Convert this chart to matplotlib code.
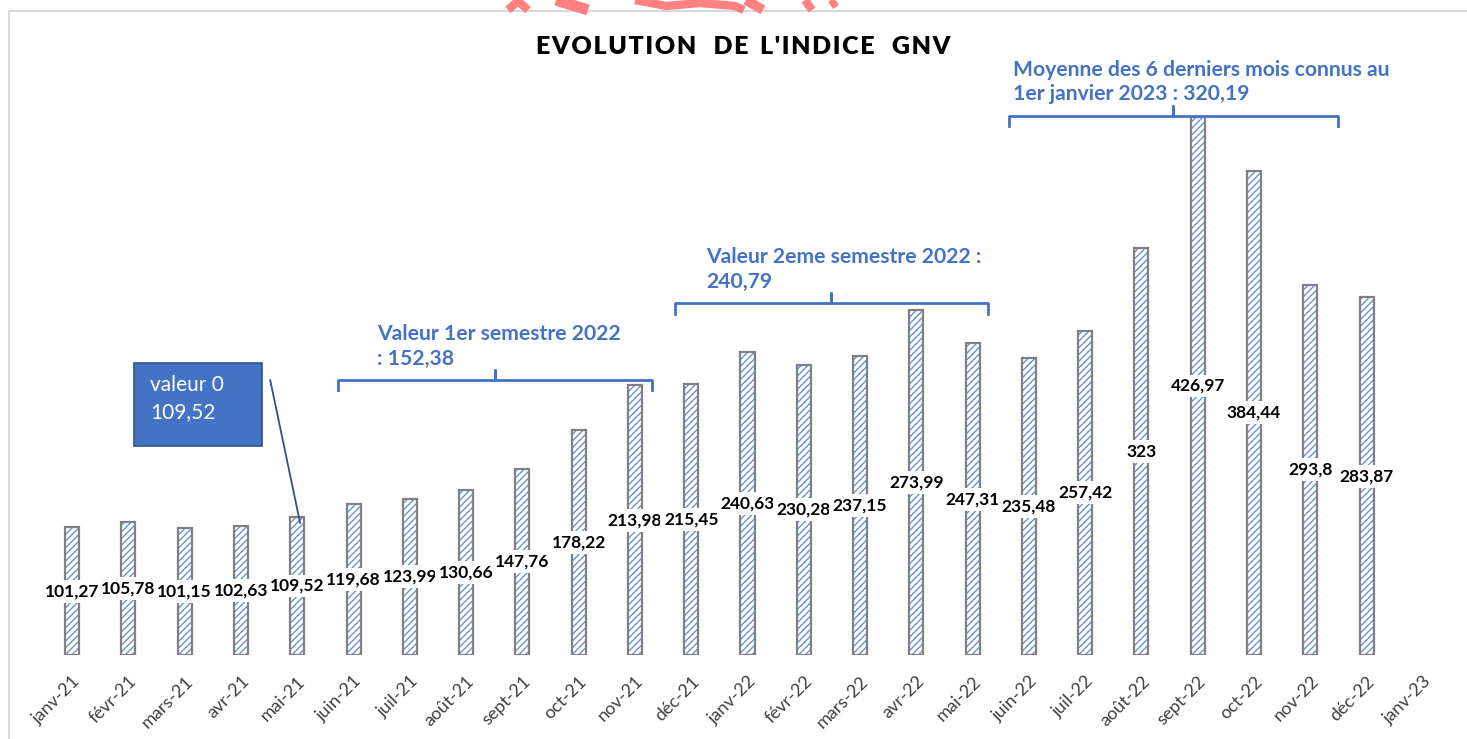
import numpy as np
import matplotlib
matplotlib.use('Agg')
import matplotlib.pyplot as plt
from matplotlib.patches import Rectangle
from matplotlib.lines import Line2D

plt.rcParams['font.family'] = ['Lato', 'DejaVu Sans']
plt.rcParams['hatch.linewidth'] = 1.0

# Data
months = ['janv-21', 'févr-21', 'mars-21', 'avr-21', 'mai-21', 'juin-21', 'juil-21',
          'août-21', 'sept-21', 'oct-21', 'nov-21', 'déc-21', 'janv-22', 'févr-22',
          'mars-22', 'avr-22', 'mai-22', 'juin-22', 'juil-22', 'août-22', 'sept-22',
          'oct-22', 'nov-22', 'déc-22', 'janv-23']
values = [101.27, 105.78, 101.15, 102.63, 109.52, 119.68, 123.99, 130.66, 147.76,
          178.22, 213.98, 215.45, 240.63, 230.28, 237.15, 273.99, 247.31, 235.48,
          257.42, 323, 426.97, 384.44, 293.8, 283.87]
value_labels = ['101,27', '105,78', '101,15', '102,63', '109,52', '119,68', '123,99',
                '130,66', '147,76', '178,22', '213,98', '215,45', '240,63', '230,28',
                '237,15', '273,99', '247,31', '235,48', '257,42', '323', '426,97',
                '384,44', '293,8', '283,87']

# Brace annotations: (x start, x end, y level, text x, text)
braces = [
    (4.72, 10.30, 218, 5.42, 'Valeur 1er semestre 2022\n: 152,38'),
    (10.71, 16.27, 279, 11.26, 'Valeur 2eme semestre 2022 :\n240,79'),
    (16.64, 22.49, 428, 16.71, 'Moyenne des 6 derniers mois connus au\n1er janvier 2023 : 320,19'),
]

blue = '#4472C4'
W, H = 1467, 739
fig = plt.figure(figsize=(W / 100, H / 100), dpi=100)
ax = fig.add_axes((44 / W, 84 / H, 1407 / W, 630 / H))

x = np.arange(len(values))
ax.bar(x, values, width=0.25, facecolor='white', edgecolor='#6A92DA',
       hatch='/////', linewidth=0)
ax.bar(x, values, width=0.25, fill=False, edgecolor='#808080', linewidth=1.6)

for xi, v, lab in zip(x, values, value_labels):
    ax.text(xi, v / 2, lab, ha='center', va='center', fontsize=12.5, fontweight='bold',
            color='black',
            bbox=dict(boxstyle='square,pad=0.2', facecolor='white', edgecolor='none'))

ax.set_xlim(-0.5, len(months) - 0.5)
ax.set_ylim(0, 500)
ax.set_xticks(np.arange(len(months)))
ax.set_xticklabels(months, rotation=45, ha='right', rotation_mode='anchor',
                   fontsize=13, color='#404040')
ax.tick_params(axis='x', length=0, pad=13)
ax.set_yticks([])
for s in ax.spines.values():
    s.set_visible(False)

# braces
for x0, x1, yb, tx, txt in braces:
    xc = (x0 + x1) / 2
    ax.plot([x0, x0, xc, xc, xc, x1, x1], [yb - 8, yb, yb, yb + 8, yb, yb, yb - 8],
            color=blue, lw=2, clip_on=False, solid_joinstyle='round')
    ax.text(tx, yb + 9, txt, ha='left', va='bottom',
            fontsize=15.2, fontweight='bold', color=blue, linespacing=1.3)

# "valeur 0" box
ax.add_patch(Rectangle((1.10, 165.7), 2.27, 65.9, facecolor=blue, edgecolor='#2F528F',
                       lw=1.2, clip_on=False))
ax.text(1.38, 203.4, 'valeur 0\n109,52', ha='left', va='center', fontsize=15,
        color='white', linespacing=1.45)
ax.plot([3.52, 4.05], [218, 105], color='#2F528F', lw=1.3, clip_on=False)

# title
fig.text(743 / W, 1 - 47 / H, "E\u200aV\u200aO\u200aL\u200aU\u200aT\u200aI\u200aO\u200aN   "
         "D\u200aE  L\u200a'\u200aI\u200aN\u200aD\u200aI\u200aC\u200aE   G\u200aN\u200aV",
         ha='center', va='center', fontsize=18, fontweight='heavy', color='black')

# outer frame
fig.add_artist(Line2D([9 / W, 9 / W], [0, 1 - 11 / H], color='#D9D9D9', lw=1.5))
fig.add_artist(Line2D([9 / W, 1], [1 - 11 / H, 1 - 11 / H], color='#D9D9D9', lw=1.5))

# red marks cut off at the top edge
red = '#FF8080'
strokes = [
    ([508, 518, 528], [10, 1, 10], 6),
    ([556, 588], [0, 10], 8),
    ([635, 666, 700, 735, 744], [0, 6, 3, 6, 10], 6),
    ([746, 763], [0, 10], 7),
    ([805, 812], [0, 10], 6),
    ([831, 836], [0, 7], 5),
]
for xs, ys, lw in strokes:
    fig.add_artist(Line2D(np.array(xs) / W, 1 - np.array(ys) / H, color=red, lw=lw,
                          solid_capstyle='butt', solid_joinstyle='round'))

fig.savefig('out.png', dpi=100)
